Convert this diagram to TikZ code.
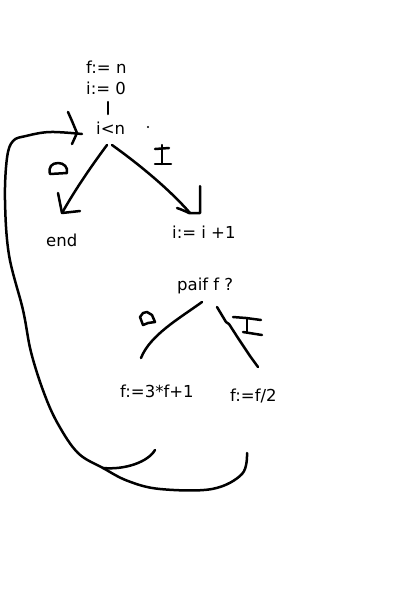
\documentclass[tikz,border=0pt]{standalone}
\usepackage{fontspec}
\setmainfont{DejaVu Sans}
\begin{document}
\begin{tikzpicture}[x=1pt,y=-1pt,
  txt/.style={anchor=base west,inner sep=0pt,font=\fontsize{16.5}{18}\selectfont},
  pen/.style={line width=2.5pt,line cap=round,line join=round}]
\useasboundingbox (0,0) rectangle (400,600);
\fill[white] (0,0) rectangle (400,600);
% texts
\node[txt] (fn) at (86,73) {f:= n};
\node[txt] (i0) at (86,94) {i:= 0};
\node[txt] (cond) at (96,134) {i<n};
\node[txt] (end) at (46,246) {end};
\node[txt] (inc) at (172,238) {i:= i +1};
\node[txt] (paif) at (177,290) {paif f ?};
\node[txt] (odd) at (120,397) {f:=3*f+1};
\node[txt] (even) at (230,401) {f:=f/2};
% small dot
\fill (148,127) circle (1.1pt);
% coordinates for stroke ends
\coordinate (barT) at (108,102);
\coordinate (barB) at (108,114);
\coordinate (c0) at (107,145);
\coordinate (endtip) at (62,213);
\coordinate (c1) at (112,145);
\coordinate (inctip) at (190,213);
\coordinate (p0) at (202,302);
\coordinate (p0e) at (141,358);
\coordinate (p1) at (217,307);
\coordinate (p1e) at (258,367);
\coordinate (loopin) at (82,134);
% bar between i:=0 and i<n
\draw[pen] (barT) -- (barB);
% branch to end
\draw[pen] (c0) .. controls (90,168) and (75,190) .. (endtip);
\draw[pen] (58,193) -- (endtip) -- (80,211);
% branch to i:=i+1
\draw[pen] (c1) .. controls (140,165) and (170,190) .. (inctip);
\draw[pen] (200,186) -- (200,213) -- (189,213) .. controls (185,211) and (180,209) .. (177,208);
% label 0 (top)
\draw[pen] (50,174) .. controls (48,167) and (52,163) .. (58,163) .. controls (64,163) and (68,167) .. (67,173) -- cycle;
% label 1 (top)
\draw[pen] (155,149) -- (169,148);
\draw[pen] (162,145) -- (162,164);
\draw[pen] (155,164) -- (171,164);
% paif branches
\draw[pen] (p0) .. controls (180,318) and (150,335) .. (p0e);
\draw[pen] (p1) -- (226,322) -- (229,324) -- (238,338) -- (240,341) -- (250,356) -- (p1e);
% label 0 (middle)
\draw[pen] (140,317) -- (143,313) -- (147,312) -- (152,315) -- (155,322) -- (148,323) -- (143,325) -- cycle;
% label 1 (middle)
\draw[pen] (233,317) -- (246,318) -- (261,320);
\draw[pen] (247,318) -- (247,332);
\draw[pen] (243,332) -- (262,335);
% return loop
\draw[pen] (155,450) .. controls (148,462) and (125,470) .. (103,468);
\draw[pen] plot[smooth,tension=0.6] coordinates {(247,453) (242,474) (212,489) (160,489) (128,481) (103,468) (78,453) (58,424) (44,393) (31,352) (23,310) (9,255) (5,200) (7,158) (13,141) (26,136) (50,132) (loopin)};
\draw[pen] (68,112) -- (72,121) -- (77,133) -- (72,144);
\end{tikzpicture}
\end{document}
